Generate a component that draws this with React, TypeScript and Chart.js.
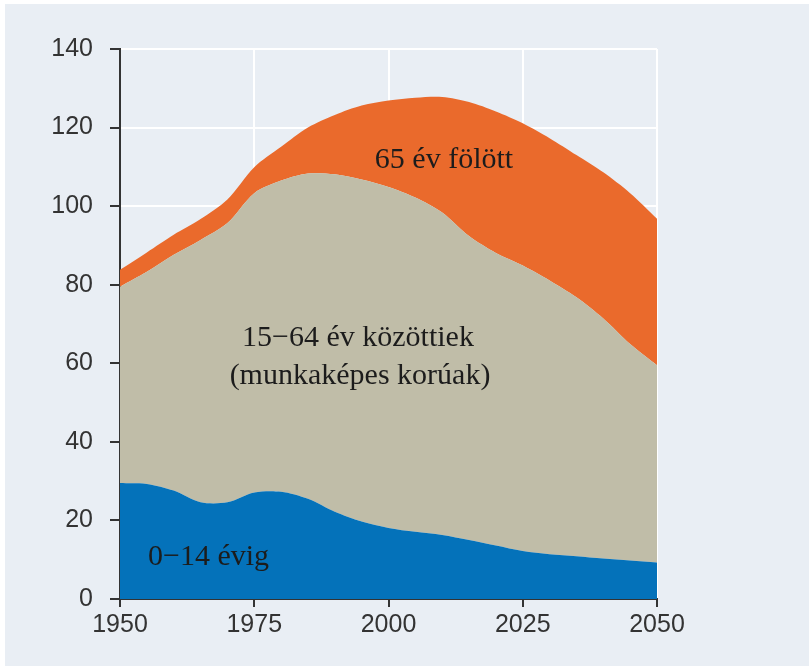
import React, { useEffect, useRef } from "react";
import { Chart, registerables } from "chart.js";

Chart.register(...registerables);

const years = [1950, 1955, 1960, 1965, 1970, 1975, 1980, 1985, 1990, 1995, 2000, 2005, 2010, 2015, 2020, 2025, 2030, 2035, 2040, 2045, 2050];
const age0to14 = [29.5, 29.3, 27.6, 24.6, 24.6, 27.1, 27.3, 25.5, 22.2, 19.7, 18.1, 17.1, 16.3, 15.0, 13.6, 12.2, 11.4, 10.9, 10.3, 9.8, 9.3];
const age15to64 = [50.0, 54.0, 60.0, 66.8, 71.1, 76.2, 79.2, 82.8, 85.9, 87.1, 86.8, 85.1, 82.1, 77.4, 74.5, 72.7, 69.7, 65.9, 61.1, 55.1, 50.2];
const age65plus = [4.3, 4.9, 5.1, 5.3, 6.0, 6.6, 8.6, 11.7, 15.1, 18.8, 22.0, 25.4, 29.4, 34.1, 36.0, 36.2, 36.2, 36.2, 37.2, 38.4, 37.3];
const xTicks = [1950, 1975, 2000, 2025, 2050];
const yTicks = [0, 20, 40, 60, 80, 100, 120, 140];

const labelOld = "65 év fölött";
const labelWork1 = "15−64 év közöttiek";
const labelWork2 = "(munkaképes korúak)";
const labelYoung = "0−14 évig";

const BG = "rgb(233,238,244)";

export default function App() {
  const ref = useRef<HTMLCanvasElement | null>(null);
  useEffect(() => {
    const canvas = ref.current;
    if (!canvas) return;
    const toPts = (arr: number[]) => arr.map((v, i) => ({ x: years[i], y: v }));
    const textPlugin = {
      id: "areaLabels",
      afterDatasetsDraw(chart: any) {
        const ctx = chart.ctx;
        ctx.save();
        ctx.fillStyle = "#1c1c1c";
        ctx.font = "30px 'Liberation Serif', 'Times New Roman', serif";
        ctx.textBaseline = "alphabetic";
        ctx.textAlign = "center";
        ctx.fillText(labelOld, 444, 168);
        ctx.fillText(labelWork1, 358, 346);
        ctx.fillText(labelWork2, 360, 384);
        ctx.textAlign = "left";
        ctx.fillText(labelYoung, 148, 565);
        ctx.restore();
      },
    };
    const bgPlugin = {
      id: "bg",
      beforeDraw(chart: any) {
        const ctx = chart.ctx;
        ctx.save();
        ctx.fillStyle = "#ffffff";
        ctx.fillRect(0, 0, chart.width, chart.height);
        ctx.fillStyle = BG;
        ctx.fillRect(5, 4, chart.width - 5, chart.height - 4);
        ctx.restore();
      },
    };
    const common = { pointRadius: 0, borderWidth: 0, tension: 0.3 };
    const chart = new Chart(canvas, {
      type: "line",
      data: {
        datasets: [
          { label: labelYoung, data: toPts(age0to14), backgroundColor: "rgb(4,114,186)", borderColor: "rgb(4,114,186)", fill: "origin", ...common },
          { label: labelWork1, data: toPts(age15to64), backgroundColor: "rgb(192,189,168)", borderColor: "rgb(192,189,168)", fill: "-1", ...common },
          { label: labelOld, data: toPts(age65plus), backgroundColor: "rgb(234,106,44)", borderColor: "rgb(234,106,44)", fill: "-1", ...common },
        ],
      },
      options: {
        animation: false,
        responsive: false,
        maintainAspectRatio: false,
        layout: { padding: { left: 40, right: 152, top: 49, bottom: 20 } },
        plugins: { legend: { display: false }, tooltip: { enabled: false } },
        scales: {
          x: {
            type: "linear",
            min: 1950,
            max: 2050,
            afterBuildTicks: (s: any) => { s.ticks = xTicks.map((v) => ({ value: v })); },
            afterFit: (s: any) => { s.height = 47; },
            grid: { color: "#ffffff", lineWidth: 2, tickColor: "#333333", tickLength: 8, tickWidth: 2 },
            border: { color: "#333333", width: 2 },
            ticks: { color: "#333333", font: { family: "'Liberation Sans', Arial, sans-serif", size: 25 }, padding: 3, maxRotation: 0, callback: (v: any) => String(v) },
          },
          y: {
            stacked: true,
            min: 0,
            max: 140,
            afterBuildTicks: (s: any) => { s.ticks = yTicks.map((v) => ({ value: v })); },
            afterFit: (s: any) => { s.width = 80; },
            grid: { color: "#ffffff", lineWidth: 2, tickColor: "#333333", tickLength: 10, tickWidth: 2 },
            border: { color: "#333333", width: 2 },
            ticks: { color: "#333333", font: { family: "'Liberation Sans', Arial, sans-serif", size: 25 }, padding: 17 },
          },
        },
      },
      plugins: [bgPlugin, textPlugin],
    });
    return () => chart.destroy();
  }, []);
  return (
    <div style={{ position: "fixed", left: 0, top: 0, width: 809, height: 666, background: BG }}>
      <canvas ref={ref} width={809} height={666} style={{ display: "block", width: 809, height: 666 }} />
    </div>
  );
}
